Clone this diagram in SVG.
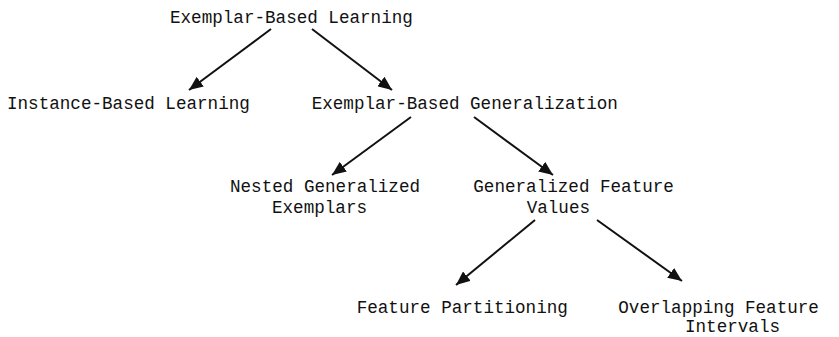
<svg xmlns="http://www.w3.org/2000/svg" width="839" height="337" viewBox="0 0 839 337">
<defs>
<style>
text{font-family:"Liberation Mono","Courier New",monospace;font-size:17.6px;fill:#111;}
.c line{stroke:#111;stroke-width:2;}
</style>
<marker id="ah" markerUnits="userSpaceOnUse" markerWidth="16" markerHeight="12" refX="14" refY="6" orient="auto">
<path d="M0,0 L14,6 L0,12 z" fill="#111"/>
</marker>
</defs>
<rect width="839" height="337" fill="#fff"/>
<g class="c" id="connectors">
<line x1="271" y1="29" x2="189" y2="90" marker-end="url(#ah)"/>
<line x1="312" y1="29" x2="392" y2="90" marker-end="url(#ah)"/>
<line x1="411" y1="117" x2="332" y2="175" marker-end="url(#ah)"/>
<line x1="474" y1="117" x2="553" y2="175" marker-end="url(#ah)"/>
<line x1="535" y1="220" x2="456" y2="285" marker-end="url(#ah)"/>
<line x1="597" y1="220" x2="682" y2="281" marker-end="url(#ah)"/>
</g>
<g id="ebl"><text x="170" y="23">Exemplar-Based Learning</text></g>
<g id="ibl"><text x="7" y="109">Instance-Based Learning</text></g>
<g id="ebg"><text x="311.7" y="109">Exemplar-Based Generalization</text></g>
<g id="nge"><text x="230" y="192">Nested Generalized</text><text x="272" y="213">Exemplars</text></g>
<g id="gfv"><text x="473.3" y="192">Generalized Feature</text><text x="526.7" y="213">Values</text></g>
<g id="fp"><text x="356.7" y="313">Feature Partitioning</text></g>
<g id="ofi"><text x="618.3" y="313">Overlapping Feature</text><text x="685" y="332">Intervals</text></g>
</svg>
